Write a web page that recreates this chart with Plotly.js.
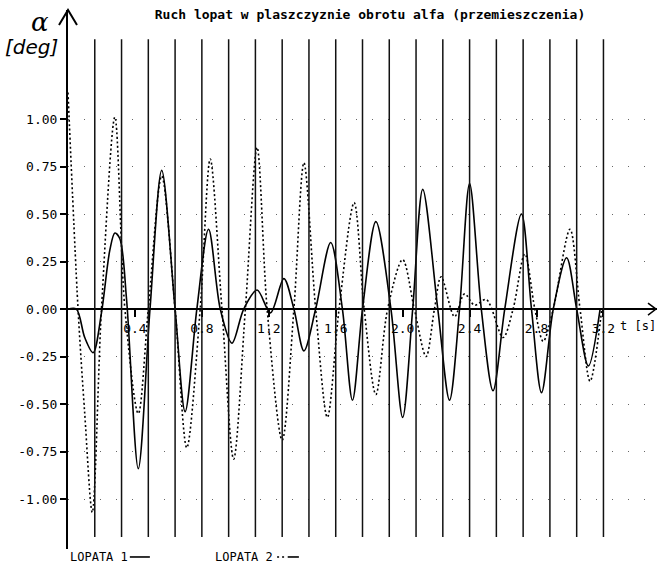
<!DOCTYPE html>
<html>
<head>
<meta charset="utf-8">
<script src="https://cdn.plot.ly/plotly-3.0.1.min.js"></script>
<style>
html,body{margin:0;padding:0;background:#fff;}
#chart{width:660px;height:569px;}
</style>
</head>
<body>
<div id="chart"></div>
<script>
// ---- data ----
const lopata1T = [0, 0.05, 0.10, 0.15, 0.20, 0.25, 0.28, 0.31, 0.35, 0.42, 0.49, 0.56, 0.64, 0.70, 0.77, 0.84, 0.91, 0.98, 1.05, 1.13, 1.21, 1.29, 1.35, 1.41, 1.48, 1.57, 1.64, 1.70, 1.76, 1.84, 1.93, 2.00, 2.06, 2.12, 2.21, 2.28, 2.34, 2.40, 2.47, 2.54, 2.61, 2.71, 2.77, 2.83, 2.90, 2.98, 3.04, 3.11, 3.18];
const lopata1V = [0.00, 0.00, -0.15, -0.23, -0.02, 0.31, 0.40, 0.37, 0.05, -0.84, 0.00, 0.73, 0.00, -0.54, 0.00, 0.42, 0.00, -0.18, 0.00, 0.10, -0.02, 0.16, 0.00, -0.22, 0.00, 0.35, 0.00, -0.48, 0.00, 0.46, 0.00, -0.57, 0.00, 0.63, 0.00, -0.48, 0.00, 0.66, 0.00, -0.43, 0.00, 0.50, 0.00, -0.44, 0.00, 0.27, 0.00, -0.30, 0.00];

const lopata2T = [0, 0.06, 0.10, 0.145, 0.20, 0.28, 0.34, 0.42, 0.48, 0.56, 0.64, 0.71, 0.79, 0.85, 0.92, 0.99, 1.06, 1.13, 1.19, 1.28, 1.35, 1.41, 1.48, 1.55, 1.62, 1.71, 1.77, 1.84, 1.91, 2.00, 2.07, 2.14, 2.19, 2.23, 2.31, 2.37, 2.43, 2.50, 2.60, 2.66, 2.73, 2.79, 2.84, 2.90, 3.00, 3.06, 3.12, 3.19];
const lopata2V = [1.14, 0.00, -0.55, -1.07, 0.00, 1.01, 0.00, -0.55, 0.00, 0.70, 0.00, -0.73, 0.00, 0.79, 0.00, -0.79, 0.00, 0.85, 0.00, -0.69, 0.00, 0.77, 0.00, -0.57, 0.00, 0.56, 0.00, -0.45, 0.00, 0.26, 0.00, -0.25, 0.00, 0.17, -0.04, 0.08, 0.02, 0.05, -0.15, 0.00, 0.29, 0.00, -0.17, 0.00, 0.42, 0.00, -0.38, 0.00];

// rotor revolution markers (vertical lines), seconds
const revTimes = [0.16, 0.32, 0.48, 0.64, 0.80, 0.96, 1.12, 1.28, 1.44, 1.60, 1.76, 1.92, 2.08, 2.24, 2.40, 2.56, 2.72, 2.88, 3.04, 3.20];
const revLineBottom = -1.20;
const revLineTop = 1.42;

const xTickVals = [0.4, 0.8, 1.2, 1.6, 2.0, 2.4, 2.8, 3.2];
const xTickText = ['0.4', '0.8', '1.2', '1.6', '2.0', '2.4', '2.8', '3.2'];
const yTickVals = [-1.00, -0.75, -0.50, -0.25, 0.00, 0.25, 0.50, 0.75, 1.00];
const yTickText = ['-1.00', '-0.75', '-0.50', '-0.25', '0.00', '0.25', '0.50', '0.75', '1.00'];

const xRange = [0, 3.52];
const yRange = [-1.263, 1.574];

const titleText = 'Ruch lopat w plaszczyznie obrotu alfa (przemieszczenia)';
const seriesNames = ['LOPATA 1', 'LOPATA 2'];

// ---- chart ----
const mono = 'DejaVu Sans Mono, monospace';
const zeroFrac = (0 - yRange[0]) / (yRange[1] - yRange[0]);

const traces = [
  {x: lopata1T, y: lopata1V, name: seriesNames[0], type: 'scatter', mode: 'lines',
   line: {color: '#000', width: 1.6, shape: 'spline', smoothing: 0.9}, hoverinfo: 'skip'},
  {x: lopata2T, y: lopata2V, name: seriesNames[1], type: 'scatter', mode: 'lines',
   line: {color: '#000', width: 1.6, dash: '2px 2.5px', shape: 'spline', smoothing: 0.9}, hoverinfo: 'skip'}
];

const shapes = revTimes.map(t => ({
  type: 'line', xref: 'x', yref: 'y', x0: t, x1: t, y0: revLineBottom, y1: revLineTop,
  line: {color: '#111', width: 1.5}, layer: 'above'
}));
// axis arrow heads
shapes.push({type: 'path', xref: 'paper', yref: 'paper', xsizemode: 'pixel', ysizemode: 'pixel',
  xanchor: 0, yanchor: 1, path: 'M-9,-15 L0,0 L9,-15', line: {color: '#000', width: 2}});
shapes.push({type: 'path', xref: 'paper', yref: 'paper', xsizemode: 'pixel', ysizemode: 'pixel',
  xanchor: 1, yanchor: zeroFrac, path: 'M-9,6 L-1,0 L-9,-6', line: {color: '#000', width: 1.5}});
// legend samples
const legY = -0.0148;
shapes.push({type: 'line', xref: 'paper', yref: 'paper', x0: 0.105, x1: 0.139, y0: legY, y1: legY,
  line: {color: '#000', width: 1.6}});
shapes.push({type: 'line', xref: 'paper', yref: 'paper', x0: 0.355, x1: 0.372, y0: legY, y1: legY,
  line: {color: '#000', width: 1.6, dash: '2px 3px'}});
shapes.push({type: 'line', xref: 'paper', yref: 'paper', x0: 0.373, x1: 0.392, y0: legY, y1: legY,
  line: {color: '#000', width: 1.6}});

const annotations = [
  {xref: 'paper', yref: 'paper', x: -0.0475, y: 0.978, xanchor: 'center', yanchor: 'middle', text: 'α', showarrow: false,
   font: {family: 'DejaVu Serif, serif', size: 26, color: '#000', style: 'italic'}},
  {xref: 'paper', yref: 'paper', x: -0.0628, y: 0.9314, xanchor: 'center', yanchor: 'middle', text: '[deg]', showarrow: false,
   font: {family: 'DejaVu Sans, sans-serif', size: 20, color: '#000', style: 'italic'}},
  {xref: 'paper', yref: 'paper', x: 0.933, y: zeroFrac - 0.031, xanchor: 'left', yanchor: 'middle', text: 't [s]', showarrow: false,
   font: {family: mono, size: 12, color: '#000'}},
  {xref: 'paper', yref: 'paper', x: 0, y: legY, xanchor: 'left', yanchor: 'middle', text: seriesNames[0], showarrow: false,
   font: {family: mono, size: 12, color: '#000'}},
  {xref: 'paper', yref: 'paper', x: 0.246, y: legY, xanchor: 'left', yanchor: 'middle', text: seriesNames[1], showarrow: false,
   font: {family: mono, size: 12, color: '#000'}}
];

const layout = {
  width: 660, height: 569,
  margin: {l: 68, r: 3, t: 10, b: 20, pad: 0},
  paper_bgcolor: '#fff', plot_bgcolor: '#fff',
  showlegend: false,
  title: {text: '<b>' + titleText + '</b>', x: 0.5606, xanchor: 'center', y: 0.975, yanchor: 'middle',
    font: {family: mono, size: 13, color: '#000'}},
  xaxis: {range: xRange, anchor: 'free', position: zeroFrac, showline: true, linecolor: '#000', linewidth: 2,
    tickvals: xTickVals, ticktext: xTickText, ticks: 'outside', ticklen: 7, tickwidth: 2, tickcolor: '#000',
    tickfont: {family: mono, size: 13, color: '#000'}, showgrid: false, zeroline: false, fixedrange: true},
  yaxis: {range: yRange, showline: true, linecolor: '#000', linewidth: 2,
    tickvals: yTickVals, ticktext: yTickText, ticks: 'outside', ticklen: 6, tickwidth: 2, tickcolor: '#000',
    tickfont: {family: mono, size: 13, color: '#000'}, showgrid: true, gridcolor: '#666', gridwidth: 1,
    griddash: '1px 15px', zeroline: false, fixedrange: true},
  shapes: shapes,
  annotations: annotations
};

Plotly.newPlot('chart', traces, layout, {displayModeBar: false, staticPlot: true});
</script>
</body>
</html>
